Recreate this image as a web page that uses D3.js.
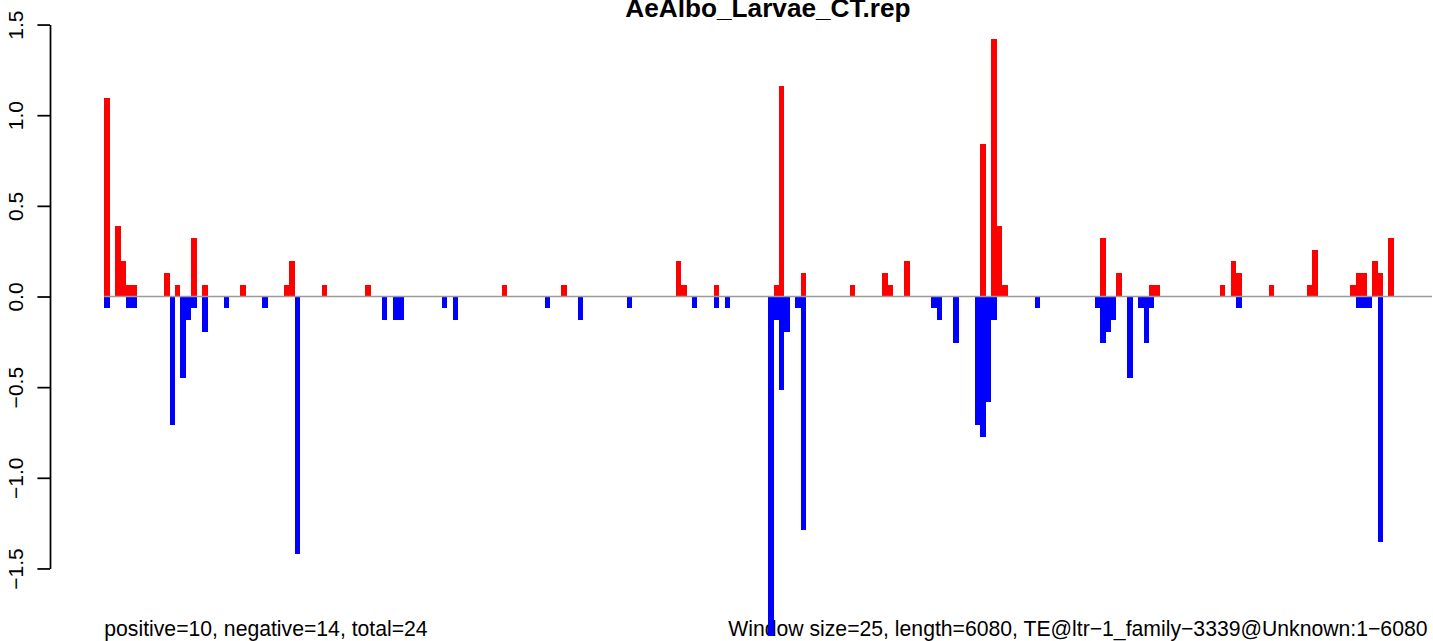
<!DOCTYPE html>
<html><head><meta charset="utf-8">
<script src="https://cdn.jsdelivr.net/npm/d3@7"></script>
<style>body{margin:0;background:#fff;overflow:hidden}</style>
</head><body>
<script>
// ---- data ----
const chartTitle = "AeAlbo_Larvae_CT.rep";
const nWindows = 244;
const posWindows = [0,2,3,4,5,11,13,16,18,25,33,34,40,48,73,84,105,106,112,123,124,128,137,143,144,147,161,163,164,165,183,186,192,193,205,207,208,214,221,222,229,230,231,233,234,236];
const posValues  = [1.097,0.387,0.194,0.065,0.065,0.129,0.065,0.323,0.065,0.065,0.065,0.194,0.065,0.065,0.065,0.065,0.194,0.065,0.065,0.065,1.161,0.129,0.065,0.129,0.065,0.194,0.839,1.419,0.387,0.065,0.323,0.129,0.065,0.065,0.065,0.194,0.129,0.065,0.065,0.258,0.065,0.129,0.129,0.194,0.129,0.323];
const negWindows = [0,4,5,12,14,15,16,18,22,29,35,51,53,54,62,64,81,87,96,108,112,114,122,123,124,125,127,128,152,153,156,160,161,162,163,171,182,183,184,185,188,190,191,192,208,230,231,232,234];
const negValues  = [-0.065,-0.065,-0.065,-0.710,-0.452,-0.129,-0.065,-0.194,-0.065,-0.065,-1.419,-0.129,-0.129,-0.129,-0.065,-0.129,-0.065,-0.129,-0.065,-0.065,-0.065,-0.065,-1.871,-0.129,-0.516,-0.194,-0.065,-1.290,-0.065,-0.129,-0.258,-0.710,-0.774,-0.581,-0.129,-0.065,-0.065,-0.258,-0.194,-0.129,-0.452,-0.065,-0.258,-0.065,-0.065,-0.065,-0.065,-0.065,-1.355];
const yTicks = [-1.5,-1.0,-0.5,0,0.5,1.0,1.5];
const yTickLabels = ["\u22121.5","\u22121.0","\u22120.5","0.0","0.5","1.0","1.5"];
const leftNote = "positive=10, negative=14, total=24";
const rightNote = "Window size=25, length=6080, TE@ltr\u22121_family\u22123339@Unknown:1\u22126080";

// ---- layout ----
const W = 1433, H = 641;
const FONT = "'Liberation Sans', Arial, Helvetica, sans-serif";
const svg = d3.select("body").append("svg").attr("width", W).attr("height", H)
  .style("display","block").style("font-family", FONT);

const x = d3.scaleLinear().domain([0, nWindows]).range([104.3, 1432]);
const y = d3.scaleLinear().domain([-1.5, 1.5]).range([568.45, 24.55]);

// title
svg.append("text").attr("x", 768).attr("y", 16.7).attr("text-anchor","middle")
  .attr("font-weight","bold").attr("font-size", 26.2).attr("fill","#000").text(chartTitle);

// bottom notes
svg.append("text").attr("x", x(0)).attr("y", 636).attr("font-size", 21.2).attr("fill","#000").text(leftNote);
svg.append("text").attr("x", 1427.5).attr("y", 636).attr("text-anchor","end").attr("font-size", 21.2).attr("fill","#000").text(rightNote);

// y axis
const axis = d3.axisLeft(y).tickValues(yTicks).tickSize(12.6).tickSizeOuter(0)
  .tickFormat((d, i) => yTickLabels[i]);
const gAxis = svg.append("g").attr("transform", "translate(50,0)").call(axis);
gAxis.select(".domain").attr("stroke","#000").attr("stroke-width",1.75);
gAxis.selectAll(".tick line").attr("stroke","#000").attr("stroke-width",1.75);
gAxis.selectAll(".tick text")
  .attr("x", null).attr("dy", null).attr("text-anchor","middle")
  .attr("transform","translate(-27.5,0) rotate(-90)")
  .attr("font-size", 21).attr("font-family", FONT).attr("fill","#000");

// bars
const pos = posWindows.map((w, i) => ({w, v: posValues[i]}));
const neg = negWindows.map((w, i) => ({w, v: negValues[i]}));
const gBars = svg.append("g").attr("shape-rendering","crispEdges");
gBars.selectAll("rect.pos").data(pos).join("rect").attr("class","pos")
  .attr("x", d => x(d.w)).attr("width", d => x(d.w + 1) - x(d.w))
  .attr("y", d => y(d.v)).attr("height", d => y(0) - y(d.v))
  .attr("fill", "#FF0000");
gBars.selectAll("rect.neg").data(neg).join("rect").attr("class","neg")
  .attr("x", d => x(d.w)).attr("width", d => x(d.w + 1) - x(d.w))
  .attr("y", y(0)).attr("height", d => y(d.v) - y(0))
  .attr("fill", "#0000FF");

// baseline
svg.append("line").attr("x1", x(0)).attr("x2", x(nWindows)).attr("y1", y(0)).attr("y2", y(0))
  .attr("stroke","#9a9a9a").attr("stroke-width",1.6);
</script>
</body></html>
